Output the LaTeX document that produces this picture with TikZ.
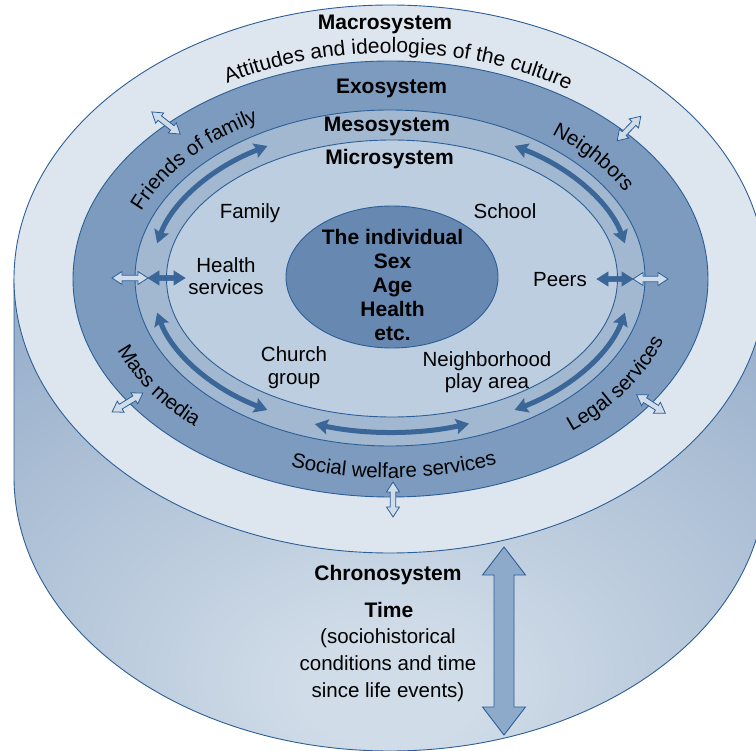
\documentclass[tikz,border=0pt]{standalone}
\usepackage{fontspec}
\setmainfont{Liberation Sans}
\usetikzlibrary{calc,shapes.geometric,arrows.meta,decorations.text}

\definecolor{rim}{HTML}{2C5F97}
\definecolor{macrofill}{HTML}{DDE5EE}
\definecolor{exofill}{HTML}{7C9BBE}
\definecolor{mesofill}{HTML}{A2B8D0}
\definecolor{microfill}{HTML}{BDCEE0}
\definecolor{selffill}{HTML}{6788B1}
\definecolor{flowblue}{HTML}{3A6698}
\definecolor{linkfill}{HTML}{D0DCE9}
\definecolor{timefill}{HTML}{8EAACB}
\definecolor{sidelite}{HTML}{D0DCE8}
\definecolor{sidedark}{HTML}{88A2C2}

% soft light on the curved wall of the cylinder
\pgfdeclareradialshading{cylside}{\pgfpoint{0bp}{-20bp}}{%
  color(0bp)=(sidelite); color(6bp)=(sidelite); color(50bp)=(sidedark); color(90bp)=(sidedark)}

\newcommand\ringfont{\fontsize{20.5}{24}\selectfont}
\newcommand\culturefont{\fontsize{21}{24}\selectfont}

% block double arrow: style, x, y, angle, length, head length, head half width, shaft half width
\newcommand\dblarrow[8]{%
  \begin{scope}[shift={(#2,#3)}, rotate=#4]
    \path[#1] ({-#5/2},0) -- ({-#5/2+#6},{#7}) -- ({-#5/2+#6},{#8}) -- ({#5/2-#6},{#8})
      -- ({#5/2-#6},{#7}) -- ({#5/2},0) -- ({#5/2-#6},{-#7}) -- ({#5/2-#6},{-#8})
      -- ({-#5/2+#6},{-#8}) -- ({-#5/2+#6},{-#7}) -- cycle;
  \end{scope}}

\tikzset{
  disc/.style={ellipse, draw=rim, line width=0.9pt, inner sep=0pt, outer sep=0pt},
  flow/.style={draw=flowblue, line width=5pt,
    arrows={Stealth[length=13pt,width=15pt,inset=2pt]-Stealth[length=13pt,width=15pt,inset=2pt]}},
  linkarrow/.style={draw=rim, fill=linkfill, line width=0.8pt, line join=miter},
  flowarrow/.style={draw=flowblue, fill=flowblue, line width=0.6pt},
  timearrow/.style={draw=rim, fill=timefill, line width=0.9pt},
  lbl/.style={font=\ringfont, inner sep=0pt, anchor=base},
  heading/.style={font=\bfseries\fontsize{21}{24}\selectfont, inner sep=0pt, anchor=base},
  ringtext/.style={decorate, decoration={text along path, text align=center, text={#1}}},
}

\begin{document}
\begin{tikzpicture}[x=1pt, y=-1pt]
\useasboundingbox (0,0) rectangle (756,751);
\clip (0,0) rectangle (756,751);

\coordinate (hub) at (390,279);
\coordinate (ring) at (391,278);

% cylinder wall
\path[shading=cylside, draw=rim, line width=0.9pt]
  (14,279) -- (14,477) arc[start angle=180, end angle=0, x radius=376, y radius=274]
  -- (766,279) -- cycle;

% nested systems on the top face
\node[disc, fill=macrofill, minimum width=752pt, minimum height=548pt] (macro) at (390,279) {};
\node[disc, fill=exofill, minimum width=635pt, minimum height=436pt] (exo) at (390.5,279) {};
\node[disc, fill=mesofill, minimum width=510pt, minimum height=336pt] (meso) at (390,278) {};
\node[disc, fill=microfill, minimum width=451pt, minimum height=277pt] (micro) at (392,278.5) {};
\node[disc, fill=selffill, minimum width=212pt, minimum height=142pt] (self) at (392,277) {};

% mesosystem links between the microsystem settings
\draw[flow] ($(ring)+(193:240 and 154)$) arc[start angle=193, end angle=239, x radius=240, y radius=154];
\draw[flow] ($(ring)+(301:240 and 154)$) arc[start angle=301, end angle=347, x radius=240, y radius=154];
\draw[flow] ($(ring)+(167:240 and 154)$) arc[start angle=167, end angle=121, x radius=240, y radius=154];
\draw[flow] ($(ring)+(59:240 and 154)$) arc[start angle=59, end angle=13, x radius=240, y radius=154];
\draw[flow] ($(ring)+(108.5:240 and 154)$) arc[start angle=108.5, end angle=71, x radius=240, y radius=154];

\dblarrow{flowarrow}{166.5}{278}{0}{37}{11}{7}{2.6}
\dblarrow{flowarrow}{615}{279}{0}{36}{11}{7}{2.6}

% exchanges across the outer rings
\dblarrow{linkarrow}{130}{278}{0}{36}{10}{6.5}{2.8}
\dblarrow{linkarrow}{650.5}{279}{0}{35}{10}{6.5}{2.8}
\dblarrow{linkarrow}{393}{499.5}{90}{35}{10}{6.5}{2.8}
\dblarrow{linkarrow}{166}{123}{-38}{36}{10}{6.5}{2.8}
\dblarrow{linkarrow}{629}{128.5}{46}{34}{10}{6.5}{2.8}
\dblarrow{linkarrow}{127.5}{402.5}{31.5}{36}{10}{6.5}{2.8}
\dblarrow{linkarrow}{651}{404}{-32.7}{34}{10}{6.5}{2.8}

% chronosystem time arrow
\dblarrow{timearrow}{504}{641}{90}{188}{28}{21.5}{10}

% ring headings
\node[heading] (macrolbl) at (385,29.5) {Macrosystem};
\node[heading] (exolbl) at (391.5,94) {Exosystem};
\node[heading] (mesolbl) at (387,132) {Mesosystem};
\node[heading] (microlbl) at (389.5,165) {Microsystem};

% text following the rings
\path[ringtext={|\culturefont|Attitudes and ideologies of the culture}]
  ($(hub)+(204:326 and 226)$) arc[start angle=204, end angle=340, x radius=326, y radius=226];
\path[ringtext={|\ringfont|Friends of family}]
  ($(hub)+(200:268 and 181)$) arc[start angle=200, end angle=242, x radius=268, y radius=181];
\path[ringtext={|\ringfont|Neighbors}]
  ($(hub)+(300:268 and 181)$) arc[start angle=300, end angle=340, x radius=268, y radius=181];
\path[ringtext={|\ringfont|Mass media}]
  ($(hub)+(159:292 and 199)$) arc[start angle=159, end angle=132, x radius=292, y radius=199];
\path[ringtext={|\ringfont|Social welfare services}]
  ($(hub)+(149:292 and 199)$) arc[start angle=149, end angle=29, x radius=292, y radius=199];
\path[ringtext={|\ringfont|Legal services}]
  ($(hub)+(51:288 and 196)$) arc[start angle=51, end angle=18, x radius=288, y radius=196];

% microsystem settings
\node[lbl] (family) at (250,219) {Family};
\node[lbl] (school) at (505,219) {School};
\node[lbl] (health1) at (226,273) {Health};
\node[lbl] (health2) at (226,295) {services};
\node[lbl] (peers) at (560,287) {Peers};
\node[lbl] (church1) at (294,362) {Church};
\node[lbl] (church2) at (294,385) {group};
\node[lbl] (play1) at (487,367) {Neighborhood};
\node[lbl] (play2) at (487,389) {play area};

% the individual
\node[heading] (self1) at (392.5,245) {The individual};
\node[heading] (self2) at (392.5,269) {Sex};
\node[heading] (self3) at (392.5,293) {Age};
\node[heading] (self4) at (392.5,317) {Health};
\node[heading] (self5) at (392.5,341) {etc.};

% chronosystem
\node[heading] (chrono) at (388,580) {Chronosystem};
\node[heading] (time) at (389,617) {Time};
\node[lbl] (time1) at (388,643) {(sociohistorical};
\node[lbl] (time2) at (388,670) {conditions and time};
\node[lbl] (time3) at (388,697) {since life events)};
\end{tikzpicture}
\end{document}
